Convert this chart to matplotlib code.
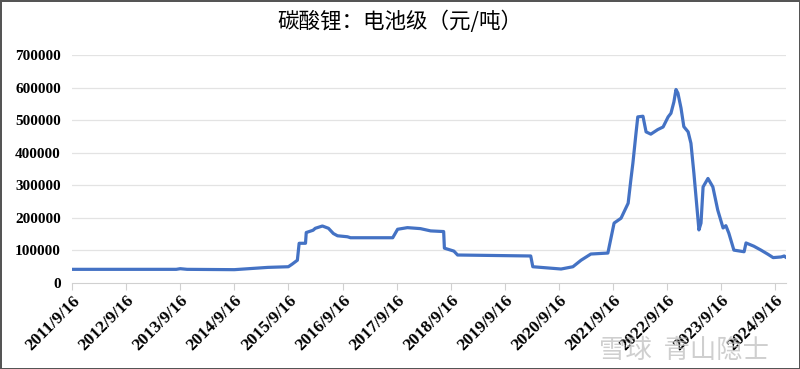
import matplotlib
matplotlib.use("Agg")
import matplotlib.pyplot as plt
import numpy as np
import pandas as pd

# 碳酸锂：电池级 price
dates = [
    "2011-09-16", "2013-08-20", "2013-09-16", "2013-11-01", "2014-09-16",
    "2015-05-01", "2015-09-16", "2015-10-12", "2015-11-16", "2015-11-28",
    "2016-01-10", "2016-01-15", "2016-03-01", "2016-03-16", "2016-05-03",
    "2016-06-13", "2016-07-16", "2016-08-13", "2016-10-19", "2016-11-09",
    "2017-08-21", "2017-09-23", "2017-11-28", "2018-02-24", "2018-05-04",
    "2018-07-31", "2018-08-05", "2018-10-08", "2018-11-02", "2020-03-10",
    "2020-03-24", "2020-10-01", "2020-12-20", "2021-02-13", "2021-04-20",
    "2021-08-13", "2021-09-24", "2021-11-10", "2021-12-28", "2022-01-15",
    "2022-01-29", "2022-02-19", "2022-03-03", "2022-04-07", "2022-04-28",
    "2022-05-30", "2022-07-16", "2022-08-21", "2022-09-24", "2022-10-13",
    "2022-11-02", "2022-11-16", "2022-11-29", "2022-12-20", "2023-01-08",
    "2023-02-06", "2023-02-25", "2023-03-17", "2023-04-20", "2023-05-04",
    "2023-05-18", "2023-06-20", "2023-07-23", "2023-08-25", "2023-09-30",
    "2023-10-19", "2023-11-08", "2023-12-12", "2024-02-19", "2024-03-03",
    "2024-04-25", "2024-06-12", "2024-07-30", "2024-09-02", "2024-10-26",
    "2024-11-16", "2024-11-24",
]
prices = [
    42000, 42000, 44000, 42000, 41000,
    48000, 50000, 58000, 70000, 122000,
    122000, 155000, 162000, 168000, 175000,
    168000, 152000, 145000, 142000, 139000,
    139000, 165000, 170000, 167000, 160000,
    158000, 107000, 98000, 86000, 83000,
    50000, 43000, 50000, 70000, 89000,
    92000, 184000, 199000, 245000, 316000,
    368000, 460000, 510000, 512000, 464000,
    457000, 471000, 479000, 510000, 521000,
    556000, 594000, 583000, 537000, 480000,
    464000, 429000, 337000, 163000, 184000,
    295000, 321000, 295000, 224000, 169000,
    176000, 153000, 101000, 96000, 123000,
    113000, 101000, 88000, 78000, 80000,
    83000, 80000,
]
tick_dates = [f"{y}-09-16" for y in range(2011, 2025)]
tick_labels = [f"{y}/9/16" for y in range(2011, 2025)]
y_ticks = [0, 100000, 200000, 300000, 400000, 500000, 600000, 700000]

x = pd.to_datetime(dates)
xt = pd.to_datetime(tick_dates)

fig = plt.figure(figsize=(8, 3.69), dpi=100)
fig.patch.set_edgecolor("#555555")
fig.patch.set_linewidth(2)
ax = fig.add_axes([0.09, 0.233, 0.8925, 0.618])

for y in y_ticks[1:]:
    ax.axhline(y, color="#e3e3e3", lw=0.9, zorder=0)
ax.plot(x, prices, color="#4472c4", lw=2.3, solid_joinstyle="round")

ax.set_ylim(0, 700000)
ax.set_xlim(xt[0], pd.Timestamp("2024-11-28"))
ax.set_yticks(y_ticks)
ax.set_yticklabels([str(v) for v in y_ticks], family="Liberation Serif",
                   fontweight="bold", fontsize=11)
ax.set_xticks(xt)
ax.set_xticklabels(tick_labels, family="Liberation Serif", fontweight="bold",
                   fontsize=12.5, rotation=45, ha="right", rotation_mode="anchor")
ax.tick_params(axis="y", length=0, pad=8)
ax.tick_params(axis="x", length=5, color="#d0d0d0", pad=2)
for s in ["top", "right", "left"]:
    ax.spines[s].set_visible(False)
ax.spines["bottom"].set_color("#d0d0d0")

fig.text(0.5, 0.94, "碳酸锂：电池级（元/吨）", ha="center", va="center",
         fontsize=15.5, family=["Noto Sans CJK SC", "DejaVu Sans"])
fig.text(0.855, 0.05, "雪球  青山隐士", ha="center", va="center", fontsize=19,
         color="#bbbbbb", alpha=0.7, family=["Noto Sans CJK SC", "DejaVu Sans"])

fig.savefig("out.png", dpi=100)
